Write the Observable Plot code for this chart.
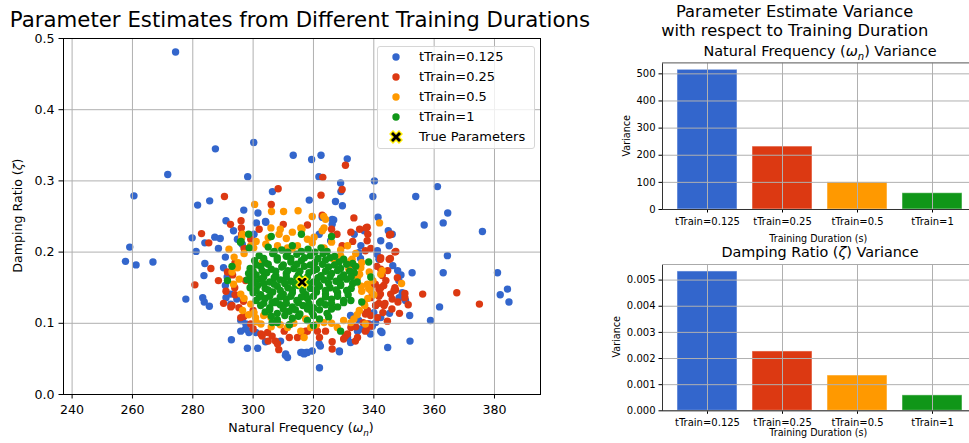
<!DOCTYPE html>
<html><head><meta charset="utf-8">
<script src="https://cdn.jsdelivr.net/npm/d3@7"></script>
<script src="https://cdn.jsdelivr.net/npm/@observablehq/plot@0.6"></script>
<style>
html,body{margin:0;padding:0;overflow:hidden;background:#fff;}
#root{position:relative;width:969px;height:443px;overflow:hidden;font-family:"DejaVu Sans",sans-serif;color:#000;}
.abs{position:absolute;white-space:nowrap;line-height:1.2;text-align:center;}
svg{position:absolute;}
</style></head><body><div id="root"></div>
<script>
// ---------- data ----------
const seriesNames = ["tTrain=0.125", "tTrain=0.25", "tTrain=0.5", "tTrain=1"];
const seriesColors = ["#3366CC", "#DC3912", "#FF9900", "#109618"];

// [natural frequency, damping ratio]
const blue = [[274.3,.481],[300.2,.354],[287.5,.345],[313.3,.336],[271.7,.309],[298.2,.306],[260.5,.279],[306.4,.285],[281.6,.266],[285.6,.272],[296.9,.259],[301.6,.255],
[319.4,.330],[322.5,.336],[331.2,.331],[321.8,.306],[329,.297],[329.1,.285],[340.2,.300],[339.7,.278],[318.6,.273],[327.3,.271],[329.6,.265],[353.9,.278],[361.1,.292],[364.5,.255],[341.4,.249],[326.2,.246],
[259.1,.207],[257.7,.187],[261.2,.182],[266.8,.186],[279.8,.220],[281.1,.201],[284,.213],[287.3,.221],[289.1,.219],[284,.184],[283.7,.167],[277.7,.134],[283.3,.136],[283.8,.130],[285.5,.124],[292.8,.077],[298.1,.065],[301.5,.065],[301.1,.241],[304.1,.243],[294.8,.218],[296.4,.211],[290.8,.193],[291.4,.165],[290.8,.153],[296.4,.104],[298.6,.087],[297.5,.092],[304.1,.074],[310.7,.055],[309.1,.075],
[356.7,.238],[363,.241],[376,.229],[344.8,.230],[346.1,.225],[364.4,.195],[363,.171],[381,.171],[384.3,.148],[381.9,.140],[384.8,.130],[361.8,.123],[358.8,.104],[352.7,.171],[349,.168],[346.3,.181],
[351.9,.111],[345.2,.114],[342.7,.087],[352,.075],[344.6,.066],[322,.0375],[328.6,.060],[322.3,.068],[316.2,.059],[317.6,.059],[338.9,.085],[340.6,.101],[339.5,.096],
[326.7,.245],[290.2,.178],[292.6,.141],[291,.136],[294.6,.134],[292.6,.127],[295.9,.104],[297.6,.099],[295.9,.089],[298.7,.089],[300.9,.087],[310.8,.057],[315.8,.059],[318,.059],[321.9,.071],[328.6,.061],[331.3,.080],[334.6,.089],[338.5,.099],[342.3,.089],
[342.3,.216],[345.1,.209],[341.2,.202],[347.9,.174],[348.4,.136],[342.3,.108],[336.8,.230],[333.5,.225],[335.7,.209],[321.9,.225],[300.3,.225],[304.2,.242],[291,.244],[311.4,.052],[316.9,.057],
[326.2,.239],[322.9,.249],[325.7,.216],[335,.199],[335.6,.191],[332.8,.181],[341.1,.197],[341.7,.190],[349.4,.143],[350.5,.132],[348.3,.160],[340,.115],[340.6,.125],[332.3,.111],[335,.104],[335.6,.092],[319.6,.061],[332.3,.073],[288.5,.205],[293.5,.230]];

const red = [[308.3,.289],[290.5,.278],[306,.267],[330.6,.322],[323.1,.305],[329.5,.288],[322.5,.280],[322.9,.252],[333.4,.248],
[282.9,.226],[285.3,.213],[286,.177],[280.7,.154],[290.2,.128],[292.5,.239],[296,.244],[296.1,.234],[310,.239],[293.9,.150],[293,.125],[295.3,.122],[303,.082],[306.3,.082],[308.5,.063],[307.4,.075],
[345.2,.224],[337.8,.235],[337.8,.216],[335.3,.232],[367.5,.143],[375,.127],[356.2,.141],[347,.200],[348.5,.114],[326.2,.064],[326.2,.074],[330.6,.082],[333.9,.075],[351.4,.126],[350.3,.136],[350.3,.142],[347,.150],[346.1,.134],[341.7,.128],[341.7,.138],[341.7,.148],[337.5,.091],[336.5,.101],
[337.4,.234],[332.4,.228],[299.2,.218],[296.2,.225],[338,.225],[345.6,.225],[347.3,.201],[345.1,.190],[342.3,.192],[293.2,.168],[292.6,.123],[295.9,.108],[299.2,.099],[302.6,.085],[308.1,.071],[314.7,.080],[318,.089],[321.3,.089],[331.3,.085],[334.6,.080],[332.4,.094],[337.9,.099],[341.2,.108],[343.4,.125],[345.6,.141],[342.3,.150],[347.8,.164],[344.6,.174],[342.3,.176],[346.7,.146],[339,.136],[336.8,.127],[337.9,.118],[312.5,.099],[310.3,.089],[304.8,.087],
[327.8,.225],[329.5,.209],[337.2,.202],[342.2,.190],[345.5,.191],[342.8,.167],[343.3,.153],[342.2,.141],[343.7,.128],[347.2,.147],[340.6,.125],[338.9,.111],[337.2,.113],[338.9,.096],[337.2,.089],[324,.089],[317.4,.089],[316.8,.085],[297.5,.160],[296.8,.131],[300,.118],
[344,.160],[340.5,.155],[346,.120],[343,.115],[348,.130],[339,.150],[344.5,.103],[334,.095],[330,.078],[322,.080],[312,.080],[305,.075],[300,.092],[297,.110],[294,.140],[291,.145],[288.5,.160],[291.5,.172],[294,.185],[297,.205],[302,.232],[318,.238],[326,.232],[333,.215],[339,.205],[341,.180]];

const orange = [[300.5,.267],[306.1,.257],[310.1,.257],[314.9,.258],[319.6,.250],[323.4,.250],
[305.9,.234],[308.6,.225],[315.8,.234],[320.2,.221],[323.5,.234],
[292,.204],[293.7,.193],[296.5,.225],[299.2,.209],[304.2,.211],[308.1,.209],[311.4,.206],[314.7,.209],
[323.5,.206],[326.8,.190],[331.3,.209],[332.4,.188],[335.7,.178],[334.6,.164],[337.9,.155],[339,.146],[342.3,.169],
[294.8,.178],[295.4,.162],[299.2,.150],[295.9,.141],[299.2,.127],[300.3,.115],[304.2,.113],[305.9,.108],[302.6,.099],[311.4,.094],[315.8,.089],[319.1,.094],[323.5,.101],[327.9,.094],[332.4,.101],[335.2,.118],[316.9,.080],
[300.2,.206],[303,.185],[300.8,.108],[303.5,.111],[312.9,.204],[296.2,.220],
[342.8,.174],[339.7,.160],[338.3,.149],[335.9,.152],[335.3,.169],[332.8,.190],[337.2,.099],[333.4,.106],[317.4,.106],[324,.246],[316.2,.232],[322.9,.230],[319.6,.213],[329,.195],[331.7,.176],[349.2,.156],[341.9,.241],
[297,.198],[295,.185],[293,.172],[293.5,.155],[297,.135],[296.5,.118],[298.5,.112],[301,.102],[306,.095],[309,.098],[313.5,.100],[321,.098],[326,.100],[330,.104],[334.5,.112],[337,.125],[338,.135],[340,.140],[336,.145],[338.5,.172],[336,.185],[334,.198],[329,.203],[326,.214],[318,.218],[311,.219],[305,.220],[301,.215],[309,.232],[313,.228]];

const green = [[305,.207],[309.5,.203],[313,.209],[318.2,.204],[322.5,.206],
[302,.195],[306.5,.198],[311,.194],[314.5,.197],[319,.195],[323.2,.198],[327,.194],
[300.5,.188],[304,.185],[308,.189],[312.5,.186],[316,.188],[320.5,.185],[324,.189],[328.5,.186],[333,.184],
[299,.177],[302.5,.180],[306,.176],[309.5,.179],[313.5,.177],[317,.180],[321,.176],[325,.179],[329,.177],[334,.180],
[298.5,.170],[301,.168],[304.5,.171],[307.5,.167],[311,.170],[315,.168],[318.5,.171],[322.5,.167],[326,.170],[330,.168],[333.5,.171],
[298,.161],[300.5,.159],[302.5,.162],[305.5,.158],[309,.161],[312.5,.159],[316,.162],[320,.158],[323.5,.161],[327.5,.159],[331,.162],[334.5,.158],
[299,.150],[301.5,.153],[304,.149],[308,.152],[311.5,.150],[315,.153],[319,.149],[322,.152],[325.5,.150],[329,.153],[332.5,.149],
[300,.143],[302.5,.140],[306.5,.144],[310,.141],[313,.143],[317.5,.140],[321,.144],[324,.141],[328,.143],[331.5,.140],
[301,.132],[304,.135],[307.5,.131],[311,.134],[314.5,.132],[318,.135],[322.5,.131],[326,.134],[330,.132],
[302.5,.125],[305.5,.122],[309,.126],[313,.123],[316.5,.125],[320,.122],[324,.126],[328,.123],
[304,.116],[308,.114],[312,.117],[315.5,.113],[319.5,.116],[324.5,.114],
[308,.105],[313,.107],[318,.104],[322,.106],
[296,.215],[298.5,.225],[338.3,.186],[332.4,.132],[329,.089],[308,.101],[295.8,.214],[298.7,.206],[306.3,.129],[306.3,.101],[291.5,.160],[293,.180],[306,.222],[316,.225],[326,.222],[336,.130],[339,.165],[312,.098],[320,.097],
[307,.201],[311.5,.200],[316,.201],[320.5,.200],[324.5,.201],
[303.5,.191],[308,.192],[312.5,.191],[317,.192],[321.5,.191],[325.5,.192],[330,.190],
[301,.182],[305,.183],[310,.182],[314.5,.183],[319,.182],[323,.183],[327,.182],[331,.183],
[300,.173],[303,.174],[307.5,.173],[311.5,.174],[315.5,.173],[320,.174],[324,.173],[328,.174],[332,.173],
[299.5,.164],[303.5,.165],[307,.164],[311,.165],[314.5,.164],[318,.165],[321.5,.164],[325.5,.165],[329,.164],[332.5,.165],
[299.5,.155],[303.5,.156],[307,.155],[310.5,.156],[314,.155],[318,.156],[321.5,.155],[325,.156],[329,.155],[333,.156],
[301,.146],[305,.147],[309,.146],[313,.147],[316.5,.146],[320.5,.147],[324,.146],[327.5,.147],[331,.146],
[302,.137],[305.5,.138],[309,.137],[312.5,.138],[316,.137],[320,.138],[324,.137],[328,.138],
[303.5,.128],[307.5,.129],[311,.128],[315,.129],[318.5,.128],[322,.129],[326,.128],[330,.129],
[305.5,.119],[310,.120],[314,.119],[318,.120],[322,.119],[326,.120],
[306,.110],[310.5,.111],[315,.110],[320,.111],[325,.109]];

const trueParams = [[316.23, 0.158]];

const xTicks = [240, 260, 280, 300, 320, 340, 360, 380];
const yTicks = [0, 0.1, 0.2, 0.3, 0.4, 0.5];

const wnVariance = [515, 232, 100, 60];
const wnTicks = [0, 100, 200, 300, 400, 500];
const zetaVariance = [0.00533, 0.00227, 0.00135, 0.00059];
const zetaTicks = [0, 0.001, 0.002, 0.003, 0.004, 0.005];
const barXLabel = "Training Duration (s)";

// ---------- build ----------
const root = document.getElementById("root");
function addText(html, cx, cy, size, rot) {
  const d = document.createElement("div");
  d.className = "abs";
  const w = 600;
  Object.assign(d.style, {left: (cx - w / 2) + "px", top: (cy - 0.6 * size) + "px", width: w + "px", height: (1.2 * size) + "px", fontSize: size + "px"});
  if (rot) { d.style.transform = "rotate(-90deg)"; d.style.transformOrigin = "50% 50%"; }
  d.innerHTML = html;
  root.appendChild(d);
  return d;
}

const pts = [blue, red, orange, green].flatMap((arr, i) => arr.map(([w, z]) => ({w, z, s: seriesNames[i]})));

const xSymbol = {
  draw(ctx, size) {
    const R = Math.sqrt(size / Math.PI), h = R / 2;
    const p = [[h,0],[R,h],[h,R],[0,h],[-h,R],[-R,h],[-h,0],[-R,-h],[-h,-R],[0,-h],[h,-R],[R,-h]];
    ctx.moveTo(p[0][0], p[0][1]);
    for (let i = 1; i < p.length; i++) ctx.lineTo(p[i][0], p[i][1]);
    ctx.closePath();
  }
};

const scatter = Plot.plot({
  width: 560, height: 443,
  marginLeft: 63, marginRight: 20, marginTop: 38, marginBottom: 49,
  style: {fontFamily: "DejaVu Sans", fontSize: "12.6px", background: "transparent", color: "#000", overflow: "visible"},
  x: {domain: [237.15, 395.25], ticks: xTicks, label: null, tickSize: 4.5, tickPadding: 6},
  y: {domain: [0, 0.5], ticks: yTicks, tickFormat: d3.format(".1f"), label: null, tickSize: 4.5, tickPadding: 4.5},
  color: {domain: seriesNames, range: seriesColors},
  marks: [
    Plot.dot(pts, {x: "w", y: "z", fill: "s", r: 3.7}),
    Plot.gridX(xTicks, {stroke: "#b0b0b0", strokeOpacity: 1, strokeWidth: 1}),
    Plot.gridY(yTicks, {stroke: "#b0b0b0", strokeOpacity: 1, strokeWidth: 1}),
    Plot.dot(trueParams, {x: d => d[0], y: d => d[1], symbol: xSymbol, r: 5.8, fill: "black", stroke: "#ffee00", strokeWidth: 1.4}),
    Plot.frame({stroke: "#000", strokeWidth: 1})
  ]
});
scatter.style.left = "0px"; scatter.style.top = "0px";
root.appendChild(scatter);

addText("Parameter Estimates from Different Training Durations", 300, 19.5, 21.3);
addText("Natural Frequency (<i>ω</i><sub style='font-size:70%;line-height:0'><i>n</i></sub>)", 301, 428, 12.6);
addText("Damping Ratio (<i>ζ</i>)", 18, 216, 12.6, true);

// legend
const leg = document.createElement("div");
Object.assign(leg.style, {position: "absolute", left: "377px", top: "45.5px", width: "156px", height: "101px", border: "1px solid #d6d6d6", borderRadius: "3px", background: "rgba(255,255,255,0.8)"});
root.appendChild(leg);
const legendEntries = seriesNames.map((n, i) => ({name: n, color: seriesColors[i], x: false})).concat([{name: "True Parameters", x: true}]);
legendEntries.forEach((e, i) => {
  const cy = 10 + i * 20;
  const svgNS = "http://www.w3.org/2000/svg";
  const s = document.createElementNS(svgNS, "svg");
  s.setAttribute("width", 16); s.setAttribute("height", 16);
  s.style.left = "10px"; s.style.top = (cy - 8) + "px";
  if (e.x) {
    const R = 6, h = 3;
    const p = [[h,0],[R,h],[h,R],[0,h],[-h,R],[-R,h],[-h,0],[-R,-h],[-h,-R],[0,-h],[h,-R],[R,-h]];
    const poly = document.createElementNS(svgNS, "path");
    poly.setAttribute("d", "M" + p.map(q => (q[0] + 8) + "," + (q[1] + 8)).join("L") + "Z");
    poly.setAttribute("fill", "black"); poly.setAttribute("stroke", "#ffee00"); poly.setAttribute("stroke-width", 1.4);
    s.appendChild(poly);
  } else {
    const c = document.createElementNS(svgNS, "circle");
    c.setAttribute("cx", 8); c.setAttribute("cy", 8); c.setAttribute("r", 3.7); c.setAttribute("fill", e.color);
    s.appendChild(c);
  }
  leg.appendChild(s);
  const t = document.createElement("div");
  Object.assign(t.style, {position: "absolute", left: "41px", top: (cy - 8) + "px", fontSize: "13px", lineHeight: "16px", whiteSpace: "nowrap"});
  t.textContent = e.name;
  leg.appendChild(t);
});

// bar charts
function barChart(values, ticks, fmt, top, height, mTop, mBottom, extraMarks) {
  const rows = seriesNames.map((n, i) => ({name: n, value: values[i]}));
  const ymax = d3.max(values) * 1.05;
  const p = Plot.plot({
    width: 380, height,
    marginLeft: 62, marginRight: 3.4, marginTop: mTop, marginBottom: mBottom,
    style: {fontFamily: "DejaVu Sans", fontSize: "10px", background: "transparent", color: "#000", overflow: "visible"},
    x: {domain: seriesNames, type: "band", paddingInner: 0.2, paddingOuter: 0.19, label: null, tickSize: 3.5, tickPadding: 5},
    y: {domain: [0, ymax], ticks, tickFormat: fmt, label: null, tickSize: 3.5, tickPadding: 3.5},
    color: {domain: seriesNames, range: seriesColors},
    marks: [
      Plot.barY(rows, {x: "name", y: "value", fill: "name", stroke: "#ffffff", strokeOpacity: 0.5, strokeWidth: 1}),
      Plot.gridX({stroke: "#b0b0b0", strokeOpacity: 1, strokeWidth: 1}),
      Plot.gridY(ticks, {stroke: "#b0b0b0", strokeOpacity: 1, strokeWidth: 1}),
      Plot.frame({stroke: "#333", strokeWidth: 1}),
      Plot.ruleY([ymax], {stroke: "#aaa", strokeWidth: 1}),
      ...extraMarks
    ]
  });
  p.style.left = "600px"; p.style.top = top + "px";
  root.appendChild(p);
}
// top chart: SVG 40..222 (frame 62.3..209)
barChart(wnVariance, wnTicks, d3.format("d"), 40, 182, 22.3, 13, []);
// bottom chart: SVG 222..443 (frame 264..410.3); also carries the x-axis title of the top chart
barChart(zetaVariance, zetaTicks, d3.format(".3f"), 222, 221, 42, 32.7, [
  Plot.text([barXLabel], {frameAnchor: "top", dy: -29.5, dx: -1.5, text: d => d, fontSize: 9.6, fill: "#000"}),
  Plot.text([barXLabel], {frameAnchor: "bottom", dy: 25, dx: -1.5, text: d => d, fontSize: 9.6, fill: "#000"})
]);

addText("Parameter Estimate Variance", 794.7, 12, 16.3);
addText("with respect to Training Duration", 794.7, 30.5, 16.3);
addText("Natural Frequency (<i>ω</i><sub style='font-size:70%;line-height:0'><i>n</i></sub>) Variance", 820, 51.5, 14.4);
addText("Damping Ratio (<i>ζ</i>) Variance", 820, 252.5, 14.4);
addText("Variance", 626.7, 135.5, 9.6, true);
addText("Variance", 617.3, 337, 9.6, true);
</script></body></html>
